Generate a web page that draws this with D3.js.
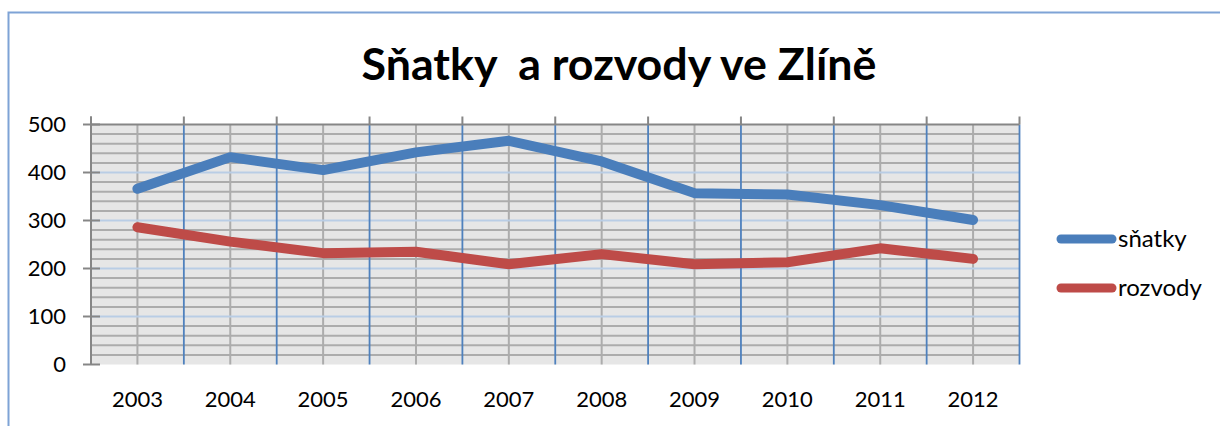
<!DOCTYPE html>
<html>
<head>
<meta charset="utf-8">
<script src="https://cdn.jsdelivr.net/npm/d3@7"></script>
<style>
  body { margin: 0; background: #fff; }
  svg { display: block; font-family: Lato, "Open Sans", sans-serif; }
</style>
</head>
<body>
<script>
// data
const years = ['2003', '2004', '2005', '2006', '2007', '2008', '2009', '2010', '2011', '2012']
const snatky = [366, 432, 405, 442, 466, 423, 357, 354, 332, 301]
const rozvody = [286, 256, 232, 235, 209, 230, 209, 213, 242, 220]
const yTicks = [0, 100, 200, 300, 400, 500]
const seriesNames = ['sňatky', 'rozvody']
const seriesColors = ['#4a7ebb', '#be4b48']
const TITLE = 'Sňatky  a rozvody ve Zlíně'

let w = 1220,
    h = 426

let svg = d3.select('body').append('svg')
    .attr('width', w)
    .attr('height', h)

// outer frame
svg.append('rect')
    .attr('x', 8.5).attr('y', 12.5)
    .attr('width', w + 20).attr('height', h + 20)
    .attr('fill', 'none')
    .attr('stroke', '#7ea3d6')
    .attr('stroke-width', 2)

const pLeft = 91, pRight = 1019.5, pTop = 124.5, pBottom = 364.5

let x = d3.scaleBand().domain(years).range([pLeft, pRight]).padding(0)
let y = d3.scaleLinear().domain([0, 500]).range([pBottom, pTop])
const cx = d => x(d) + x.bandwidth() / 2
const bx = d => d === 'end' ? pRight : x(d)

// plot background
svg.append('rect')
    .attr('x', pLeft).attr('y', pTop)
    .attr('width', pRight - pLeft).attr('height', pBottom - pTop)
    .attr('fill', '#e6e6e6')

let grid = svg.append('g')

// minor horizontal lines, every 20
let minor = d3.range(20, 500, 20).filter(v => v % 100 !== 0)
grid.selectAll('.hminor').data(minor).enter().append('line')
    .attr('x1', pLeft).attr('x2', pRight)
    .attr('y1', d => y(d)).attr('y2', d => y(d))
    .attr('stroke', '#acacac').attr('stroke-width', 2)

// minor vertical lines at category centres
grid.selectAll('.vminor').data(years).enter().append('line')
    .attr('x1', d => cx(d)).attr('x2', d => cx(d))
    .attr('y1', pTop).attr('y2', pBottom)
    .attr('stroke', '#acacac').attr('stroke-width', 2)

// major horizontal lines
grid.selectAll('.hmajor').data(yTicks.filter(v => v > 0 && v < 500)).enter().append('line')
    .attr('x1', pLeft).attr('x2', pRight)
    .attr('y1', d => y(d)).attr('y2', d => y(d))
    .attr('stroke', '#b9cde5').attr('stroke-width', 2)

// major vertical lines at category borders
grid.selectAll('.vmajor').data(years.slice(1).concat(['end'])).enter().append('line')
    .attr('x1', bx).attr('x2', bx)
    .attr('y1', pTop).attr('y2', pBottom)
    .attr('stroke', '#4f81bd').attr('stroke-width', 1.8)

// top axis line and ticks
const axisColor = '#868686'
svg.append('line')
    .attr('x1', pLeft).attr('x2', pRight)
    .attr('y1', pTop).attr('y2', pTop)
    .attr('stroke', axisColor).attr('stroke-width', 2)
svg.selectAll('.xtick').data(years.concat(['end'])).enter().append('line')
    .attr('x1', bx).attr('x2', bx)
    .attr('y1', pTop - 8).attr('y2', pTop)
    .attr('stroke', axisColor).attr('stroke-width', 2)

// y axis
svg.append('line')
    .attr('x1', pLeft).attr('x2', pLeft)
    .attr('y1', pTop - 8).attr('y2', pBottom)
    .attr('stroke', axisColor).attr('stroke-width', 2)
svg.selectAll('.ytick').data(yTicks).enter().append('line')
    .attr('x1', pLeft - 8).attr('x2', pLeft + 9)
    .attr('y1', d => y(d)).attr('y2', d => y(d))
    .attr('stroke', axisColor).attr('stroke-width', 2)

svg.selectAll('.ylabel').data(yTicks).enter().append('text')
    .attr('x', 66)
    .attr('y', d => y(d))
    .attr('dy', '0.36em')
    .attr('text-anchor', 'end')
    .attr('font-size', 22)
    .text(d => d)

svg.selectAll('.xlabel').data(years).enter().append('text')
    .attr('x', d => cx(d))
    .attr('y', 407)
    .attr('text-anchor', 'middle')
    .attr('font-size', 22)
    .text(d => d)

// lines
let line = d3.line().x((d, i) => cx(years[i])).y(d => y(d))
;[snatky, rozvody].forEach((s, i) => {
    svg.append('path')
        .datum(s)
        .attr('d', line)
        .attr('fill', 'none')
        .attr('stroke', seriesColors[i])
        .attr('stroke-width', 10)
        .attr('stroke-linejoin', 'round')
        .attr('stroke-linecap', 'round')
})

// legend
let legend = svg.selectAll('.legend').data(seriesNames).enter().append('g')
    .attr('transform', (d, i) => 'translate(1061,' + (239 + i * 49) + ')')
legend.append('line')
    .attr('x1', 0).attr('x2', 51)
    .attr('stroke', (d, i) => seriesColors[i])
    .attr('stroke-width', 9)
    .attr('stroke-linecap', 'round')
legend.append('text')
    .attr('x', 57)
    .attr('dy', '0.34em')
    .attr('font-size', 24)
    .text(d => d)

// title, sized to the reference width
let title = svg.append('text')
    .attr('x', 619)
    .attr('y', 80)
    .attr('text-anchor', 'middle')
    .attr('font-weight', 'bold')
    .attr('font-size', 40)
    .style('white-space', 'pre')
    .text(TITLE)
let tw = title.node().getComputedTextLength()
title.attr('font-size', 40 * 515 / tw)
</script>
</body>
</html>
